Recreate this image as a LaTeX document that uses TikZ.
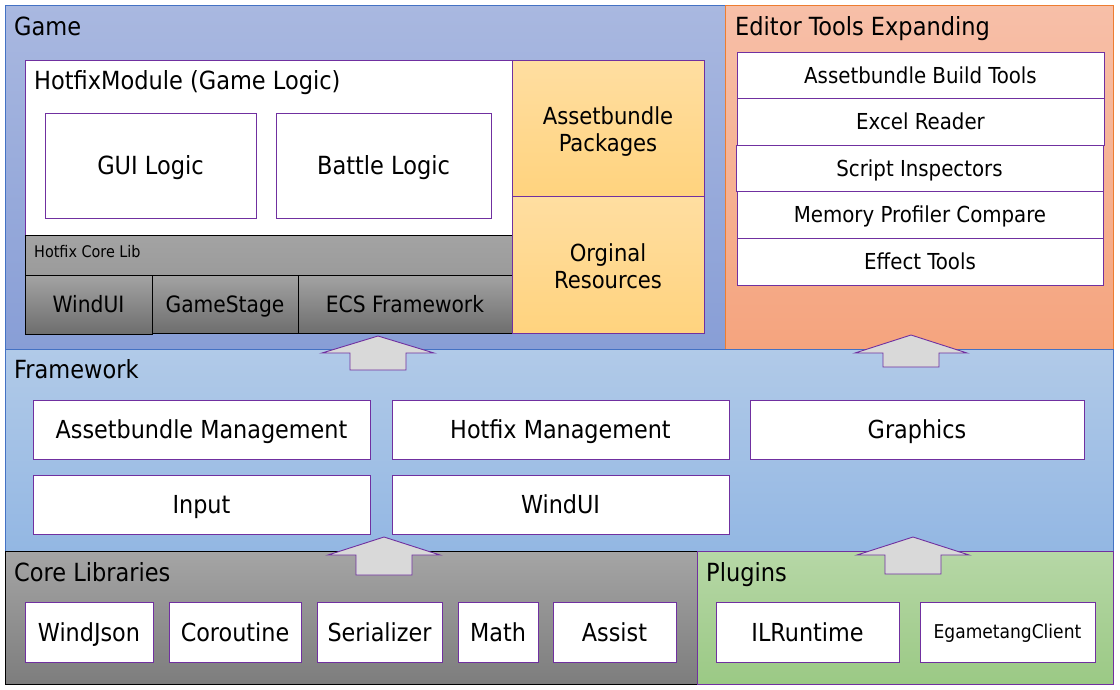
\documentclass[tikz,border=0pt]{standalone}
\usepackage{fontspec}
\setmainfont{DejaVu Sans Condensed}
\definecolor{pur}{HTML}{7030A0}
\definecolor{gameT}{HTML}{A9B8E0}
\definecolor{gameB}{HTML}{889ED6}
\definecolor{gameL}{HTML}{4472C4}
\definecolor{edT}{HTML}{F7BFA8}
\definecolor{edB}{HTML}{F5A47E}
\definecolor{edL}{HTML}{ED7D31}
\definecolor{fwT}{HTML}{B1CAE8}
\definecolor{fwB}{HTML}{93B7E3}
\definecolor{coT}{HTML}{A5A5A5}
\definecolor{coB}{HTML}{7D7D7D}
\definecolor{plT}{HTML}{B6D7A6}
\definecolor{plB}{HTML}{9BC985}
\definecolor{orT}{HTML}{FFDEA1}
\definecolor{orB}{HTML}{FFD37E}
\definecolor{grT}{HTML}{A3A3A3}
\definecolor{grB}{HTML}{6E6E6E}
\definecolor{arr}{HTML}{D9D9D9}
\newcommand\mkbox[7]{\node[#1,anchor=north west,minimum width={(#5-#3)*1pt},minimum height={(#6-#4)*1pt}] (#2) at (#3,#4) {#7};}
\newcommand\blockarrow[4]{\draw[blk] (#1,#2) -- ({#1+56},#3) -- ({#1+28},#3) -- ({#1+28},#4) -- ({#1-28},#4) -- ({#1-28},#3) -- ({#1-56},#3) -- cycle;}
\tikzset{
  base/.style={inner sep=0pt,outer sep=0pt,line width=0.9pt,align=center},
  region/.style={base,draw=#1},
  capc/.style={text height=#1,text depth=0pt},
  wbox/.style={base,capc=18.1pt,draw=pur,fill=white,font=\fontsize{24.8}{28}\selectfont},
  ebox/.style={base,capc=16pt,draw=pur,fill=white,font=\fontsize{22}{26}\selectfont},
  obox/.style={base,draw=pur,top color=orT,bottom color=orB},
  otxt/.style={inner sep=0pt,capc=17.2pt,font=\fontsize{23.5}{27}\selectfont},
  gbox/.style={base,capc=16.4pt,draw=black,top color=grT,bottom color=grB,font=\fontsize{22.5}{26}\selectfont},
  lbl/.style={anchor=base west,inner sep=0pt,font=\fontsize{25}{29}\selectfont},
  blk/.style={draw=pur,fill=arr,line width=0.9pt,line join=miter},
}
\begin{document}
\begin{tikzpicture}[x=1pt,y=-1pt]
\useasboundingbox (0,0) rectangle (1120,689);
% regions
\mkbox{region=gameL,top color=gameT,bottom color=gameB}{game}{5}{5}{725}{349}{}
\mkbox{region=edL,top color=edT,bottom color=edB}{editor}{725}{5}{1113}{349}{}
\mkbox{region=gameL,top color=fwT,bottom color=fwB}{fw}{5}{349}{1113}{551}{}
\mkbox{region=black,top color=coT,bottom color=coB}{core}{5}{551}{697}{684}{}
\mkbox{region=pur,top color=plT,bottom color=plB}{plugins}{697}{551}{1113}{684}{}
\node[lbl] (gameL) at (14,35) {Game};
\node[lbl] (edLbl) at (735,35) {Editor Tools Expanding};
\node[lbl] (fwL) at (14,378) {Framework};
\node[lbl] (coreL) at (14,581) {Core Libraries};
\node[lbl] (plL) at (706,581) {Plugins};
% game
\mkbox{base,draw=pur,fill=white}{hotfix}{25}{60}{513}{235}{}
\node[lbl] (hotfixL) at (34,89) {HotfixModule (Game Logic)};
\mkbox{wbox,capc=18.25pt,font=\fontsize{25}{28}\selectfont}{gui}{45}{113}{256}{218}{GUI Logic}
\mkbox{wbox,capc=18.25pt,font=\fontsize{25}{28}\selectfont}{battle}{276}{113}{491}{218}{Battle Logic}
\mkbox{base,draw=black,top color=grT,bottom color=grT!85!grB}{corelib}{25}{235}{512}{275}{}
\node[lbl,font=\fontsize{16}{19}\selectfont] (corelibL) at (34,257) {Hotfix Core Lib};
\mkbox{gbox}{gwind}{25}{275}{152}{334}{WindUI}
\mkbox{gbox}{gstage}{152}{275}{298}{333}{GameStage}
\mkbox{gbox}{gecs}{298}{275}{512}{333}{ECS Framework}
\mkbox{obox}{abpk}{512}{60}{704}{196}{}
\mkbox{obox}{orig}{512}{196}{704}{333}{}
\node[otxt] (abpk1) at (608,116) {Assetbundle};
\node[otxt] (abpk2) at (608,143) {Packages};
\node[otxt] (orig1) at (608,253) {Orginal};
\node[otxt] (orig2) at (608,280) {Resources};
% editor tools
\mkbox{ebox}{e1}{737}{52}{1104}{98}{Assetbundle Build Tools}
\mkbox{ebox}{e2}{737}{98}{1104}{145}{Excel Reader}
\mkbox{ebox}{e3}{736}{145}{1103}{191}{Script Inspectors}
\mkbox{ebox}{e4}{737}{191}{1103}{238}{Memory Profiler Compare}
\mkbox{ebox}{e5}{737}{238}{1103}{285}{Effect Tools}
% framework
\mkbox{wbox}{abm}{33}{400}{370}{459}{Assetbundle Management}
\mkbox{wbox}{hfm}{392}{400}{729}{459}{Hotfix Management}
\mkbox{wbox}{gfx}{750}{400}{1084}{459}{Graphics}
\mkbox{wbox}{inp}{33}{475}{370}{534}{Input}
\mkbox{wbox}{fwui}{392}{475}{729}{534}{WindUI}
% core libraries
\mkbox{wbox}{wjson}{25}{602}{153}{662}{WindJson}
\mkbox{wbox}{corout}{169}{602}{301}{662}{Coroutine}
\mkbox{wbox}{ser}{317}{602}{442}{662}{Serializer}
\mkbox{wbox}{math}{458}{602}{538}{662}{Math}
\mkbox{wbox}{assist}{553}{602}{676}{662}{Assist}
% plugins
\mkbox{wbox}{ilr}{716}{602}{899}{662}{ILRuntime}
\mkbox{wbox,capc=13.9pt,font=\fontsize{19}{22}\selectfont}{ega}{920}{602}{1095}{662}{EgametangClient}
% block arrows
\blockarrow{378}{336}{353}{370}
\blockarrow{911}{335}{353}{367}
\blockarrow{384}{537}{555}{575}
\blockarrow{913}{537}{555}{574}
\end{tikzpicture}
\end{document}
